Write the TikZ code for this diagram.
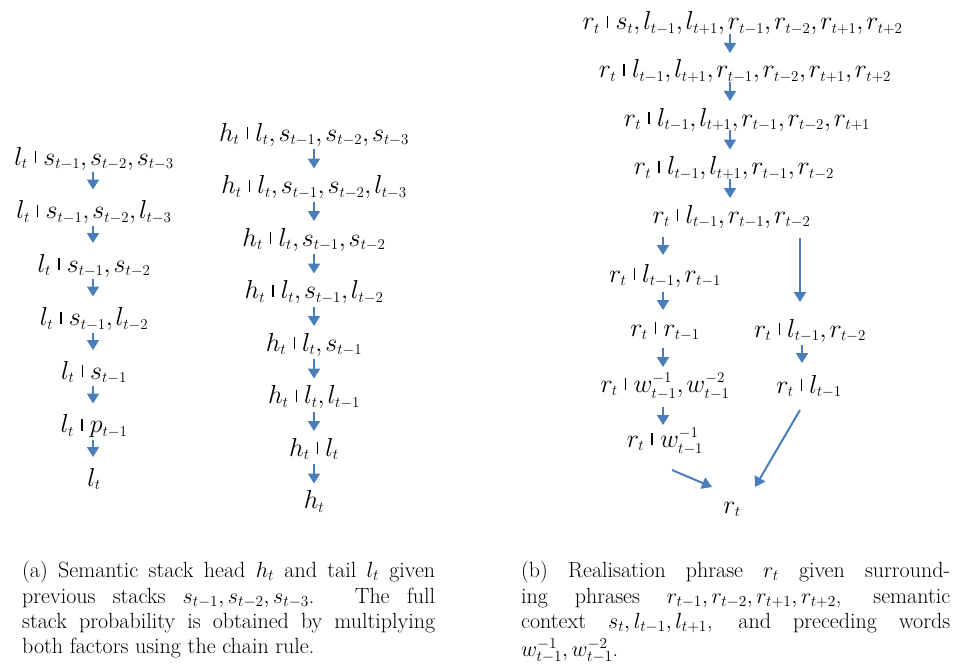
\RequirePackage{fix-cm}
\documentclass[tikz,border=0pt]{standalone}
\usepackage{fontspec}
\usetikzlibrary{arrows.meta,calc}
\DeclareMathSizes{26}{26}{15}{11}
\definecolor{arrblue}{RGB}{74,126,187}
\newcommand\gv{\mathrel{\rule[0.07em]{0.05em}{0.46em}}}
\newcommand\fmlstart{$\thinmuskip=2mu\relax}
\begin{document}
\begin{tikzpicture}[x=1pt,y=-1pt,
  fml/.style={font=\fontsize{26}{32}\selectfont, inner sep=0pt, anchor=base, execute at begin node=\fmlstart, execute at end node=$},
  captxt/.style={font=\fontsize{22}{25}\selectfont, inner sep=0pt, anchor=base west},
  arr/.style={draw=arrblue, line width=2pt, -{Triangle[width=12pt,length=10pt]}}]
\useasboundingbox (0,0) rectangle (957,666);
% left chain
\node[fml] (L1) at (94,165)   {l_t \gv s_{t-1}, s_{t-2}, s_{t-3}};
\node[fml] (L2) at (94,218.5) {l_t \gv s_{t-1}, s_{t-2}, l_{t-3}};
\node[fml] (L3) at (94,272)   {l_t \gv s_{t-1}, s_{t-2}};
\node[fml] (L4) at (94,325.5) {l_t \gv s_{t-1}, l_{t-2}};
\node[fml] (L5) at (94,379)   {l_t \gv s_{t-1}};
\node[fml] (L6) at (94,432.5) {l_t \gv p_{t-1}};
\node[fml] (L7) at (94,486)   {l_t};
\foreach \a/\b in {L1/L2,L2/L3,L3/L4,L4/L5,L5/L6,L6/L7}
  \draw[arr] ($(\a.base)+(-1,7)$) -- ($(\b.base)+(-1,-29)$);
% middle chain
\node[fml] (M1) at (314,141)   {h_t \gv l_t, s_{t-1}, s_{t-2}, s_{t-3}};
\node[fml] (M2) at (314,193.5) {h_t \gv l_t, s_{t-1}, s_{t-2}, l_{t-3}};
\node[fml] (M3) at (314,246)   {h_t \gv l_t, s_{t-1}, s_{t-2}};
\node[fml] (M4) at (314,298.5) {h_t \gv l_t, s_{t-1}, l_{t-2}};
\node[fml] (M5) at (314,351)   {h_t \gv l_t, s_{t-1}};
\node[fml] (M6) at (314,403.5) {h_t \gv l_t, l_{t-1}};
\node[fml] (M7) at (314,456)   {h_t \gv l_t};
\node[fml] (M8) at (314,508.5) {h_t};
\foreach \a/\b in {M1/M2,M2/M3,M3/M4,M4/M5,M5/M6,M6/M7,M7/M8}
  \draw[arr] ($(\a.base)+(0,8)$) -- ($(\b.base)+(0,-25)$);
% right chain
\coordinate (rx) at (730,0);
\coordinate (lx) at (663,0);
\coordinate (qx) at (800,0);
\node[fml] (R1) at (742.5,30)  {r_t \gv s_t, l_{t-1}, l_{t+1}, r_{t-1}, r_{t-2}, r_{t+1}, r_{t+2}};
\node[fml] (R2) at (745,78)    {r_t \gv l_{t-1}, l_{t+1}, r_{t-1}, r_{t-2}, r_{t+1}, r_{t+2}};
\node[fml] (R3) at (747,126)   {r_t \gv l_{t-1}, l_{t+1}, r_{t-1}, r_{t-2}, r_{t+1}};
\node[fml] (R4) at (734,174.5) {r_t \gv l_{t-1}, l_{t+1}, r_{t-1}, r_{t-2}};
\node[fml] (R5) at (731.5,223) {r_t \gv l_{t-1}, r_{t-1}, r_{t-2}};
\foreach \a/\b in {R1/R2,R2/R3,R3/R4,R4/R5}
  \draw[arr] ($(\a.base -| rx)+(0,4)$) -- ($(\b.base -| rx)+(0,-25)$);
% lower left branch
\node[fml] (LA) at (665,282) {r_t \gv l_{t-1}, r_{t-1}};
\node[fml] (LB) at (665,336) {r_t \gv r_{t-1}};
\node[fml] (LC) at (665,392) {r_t \gv w^{-1}_{t-1}, w^{-2}_{t-1}};
\node[fml] (LD) at (665,447) {r_t \gv w^{-1}_{t-1}};
% lower right branch
\node[fml] (RA) at (810,337) {r_t \gv l_{t-1}, r_{t-2}};
\node[fml] (RB) at (809,393) {r_t \gv l_{t-1}};
\node[fml] (F) at (732,513) {r_t};
\draw[arr] ($(R5.base -| lx)+(0,14)$) -- ($(LA.base -| lx)+(0,-27)$);
\draw[arr] ($(LA.base -| lx)+(0,10)$) -- ($(LB.base -| lx)+(0,-26)$);
\draw[arr] ($(LB.base -| lx)+(0,12)$) -- ($(LC.base -| lx)+(0,-25)$);
\draw[arr] ($(LC.base -| lx)+(0,15)$) -- ($(LD.base -| lx)+(0,-22)$);
\draw[arr] ($(R5.base -| qx)+(0,15)$) -- ($(RA.base -| qx)+(0,-35)$);
\draw[arr] ($(RA.base)+(-8,8)$) -- ($(RB.base)+(-7,-30)$);
\draw[arr] ($(LD.base)+(7,23)$) -- ($(F.base)+(-20,-26)$);
\draw[arr] ($(RB.base)+(-9,17)$) -- ($(F.base)+(23,-26)$);
% captions
\node[captxt] (ca1) at (22,577) {\makebox[413pt][s]{(a) Semantic stack head $h_t$ and tail $l_t$ given}};
\node[captxt] (ca2) at (22,603) {\makebox[413pt][s]{previous stacks $s_{t-1}, s_{t-2}, s_{t-3}$. The full}};
\node[captxt] (ca3) at (22,628) {\makebox[413pt][s]{stack probability is obtained by multiplying}};
\node[captxt] (ca4) at (22,653) {both factors using the chain rule.};
\node[captxt] (cb1) at (521,577) {\makebox[429pt][s]{(b) Realisation phrase $r_t$ given surround-}};
\node[captxt] (cb2) at (521,603) {\makebox[429pt][s]{ing phrases $r_{t-1}, r_{t-2}, r_{t+1}, r_{t+2}$, semantic}};
\node[captxt] (cb3) at (521,628) {\makebox[429pt][s]{context $s_t, l_{t-1}, l_{t+1}$, and preceding words}};
\node[captxt] (cb4) at (521,656) {$w^{-1}_{t-1}, w^{-2}_{t-1}$.};
\end{tikzpicture}
\end{document}
